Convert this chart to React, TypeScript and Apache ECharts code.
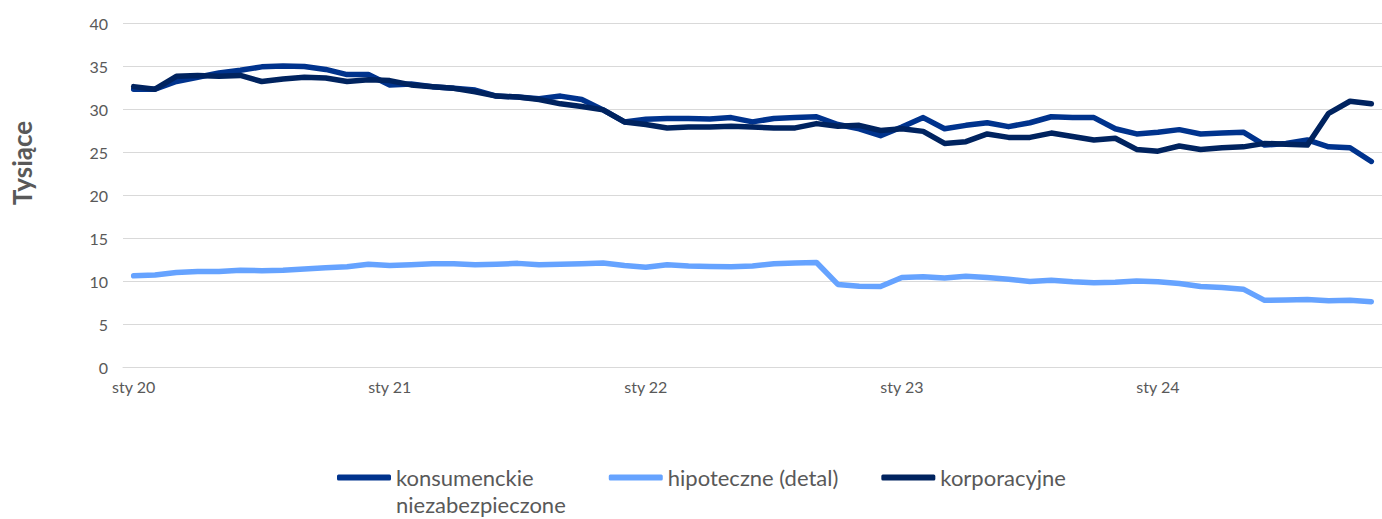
import React, { useEffect, useRef } from "react";
import * as echarts from "echarts";

const monthNames = ["sty", "lut", "mar", "kwi", "maj", "cze", "lip", "sie", "wrz", "paź", "lis", "gru"];
const yearNames = ["20", "21", "22", "23", "24"];
const categories = yearNames.flatMap((y) => monthNames.map((m) => `${m} ${y}`)).slice(0, 59);

const seriesNames = ["konsumenckie niezabezpieczone", "hipoteczne (detal)", "korporacyjne"];

const konsumenckie = [
  32.3, 32.3, 33.2, 33.7, 34.2, 34.5, 34.9, 35.0, 34.95, 34.6, 34.0, 34.0,
  32.8, 32.9, 32.6, 32.4, 32.2, 31.5, 31.4, 31.2, 31.5, 31.1, 29.9, 28.5,
  28.8, 28.9, 28.9, 28.85, 29.0, 28.5, 28.9, 29.0, 29.1, 28.2, 27.7, 26.9,
  27.9, 29.0, 27.7, 28.1, 28.4, 27.95, 28.4, 29.1, 29.0, 29.0, 27.7, 27.1,
  27.3, 27.6, 27.1, 27.2, 27.3, 25.8, 26.0, 26.4, 25.6, 25.5, 23.9,
];

const hipoteczne = [
  10.6, 10.7, 11.0, 11.1, 11.1, 11.25, 11.2, 11.25, 11.4, 11.55, 11.65, 11.95,
  11.8, 11.9, 12.0, 12.0, 11.9, 11.95, 12.05, 11.9, 11.95, 12.0, 12.1, 11.8,
  11.6, 11.9, 11.75, 11.7, 11.65, 11.75, 12.0, 12.1, 12.15, 9.6, 9.4, 9.35,
  10.4, 10.5, 10.35, 10.55, 10.4, 10.2, 9.95, 10.1, 9.9, 9.8, 9.85, 10.0,
  9.9, 9.7, 9.35, 9.25, 9.05, 7.75, 7.8, 7.85, 7.7, 7.75, 7.6,
];

const korporacyjne = [
  32.6, 32.3, 33.8, 33.9, 33.8, 33.9, 33.2, 33.5, 33.7, 33.6, 33.2, 33.4,
  33.3, 32.8, 32.6, 32.4, 32.0, 31.5, 31.4, 31.1, 30.6, 30.3, 29.9, 28.5,
  28.2, 27.8, 27.9, 27.9, 28.0, 27.9, 27.8, 27.8, 28.3, 28.0, 28.1, 27.5,
  27.7, 27.4, 26.0, 26.2, 27.1, 26.7, 26.7, 27.2, 26.8, 26.4, 26.6, 25.3,
  25.1, 25.7, 25.3, 25.5, 25.6, 26.0, 25.9, 25.8, 29.5, 30.9, 30.6,
];

const colors = ["#00338D", "#66A3FF", "#00235F"];
const FONT = "Lato";
const GRAY = "#595959";

export default function App() {
  const ref = useRef<HTMLDivElement>(null);
  useEffect(() => {
    document.body.style.margin = "0";
    const chart = echarts.init(ref.current!, null, { renderer: "svg" });
    const values = [konsumenckie, hipoteczne, korporacyjne];
    chart.setOption({
      animation: false,
      backgroundColor: "#ffffff",
      textStyle: { fontFamily: FONT },
      grid: { left: 123, top: 23, height: 344, width: 1268, containLabel: false },
      xAxis: {
        type: "category",
        data: categories,
        boundaryGap: true,
        axisLine: { lineStyle: { color: "#d9d9d9", width: 1 } },
        axisTick: { interval: 11, length: 5, lineStyle: { color: "#d9d9d9" } },
        axisLabel: { interval: 11, color: GRAY, fontFamily: FONT, fontSize: 16, margin: 11 },
        splitLine: { show: false },
      },
      yAxis: {
        type: "value",
        min: 0,
        max: 40,
        interval: 5,
        axisLine: { show: false },
        axisTick: { show: false },
        axisLabel: { color: GRAY, fontFamily: FONT, fontSize: 16, margin: 15 },
        splitLine: { lineStyle: { color: "#d9d9d9", width: 1 } },
      },
      legend: {
        left: 337,
        top: 437,
        padding: 0,
        itemGap: 43,
        itemWidth: 54,
        itemHeight: 6,
        icon: "roundRect",
        formatter: (name: string) =>
          name === seriesNames[0] ? "\nkonsumenckie\nniezabezpieczone" : name,
        textStyle: { color: GRAY, fontFamily: FONT, fontSize: 22, lineHeight: 27 },
        data: seriesNames,
      },
      graphic: [
        {
          type: "text",
          x: 22,
          y: 163,
          rotation: Math.PI / 2,
          style: {
            text: "Tysiące",
            fill: GRAY,
            font: `bold 26px ${FONT}`,
            align: "center",
            verticalAlign: "middle",
          },
        },
      ],
      series: seriesNames.map((name, i) => ({
        name,
        type: "line",
        data: values[i],
        showSymbol: false,
        symbol: "none",
        itemStyle: { color: colors[i] },
        lineStyle: { color: colors[i], width: 5.5, cap: "round", join: "round" },
      })),
    });
    return () => chart.dispose();
  }, []);
  return <div ref={ref} style={{ width: 1382, height: 519 }} />;
}
